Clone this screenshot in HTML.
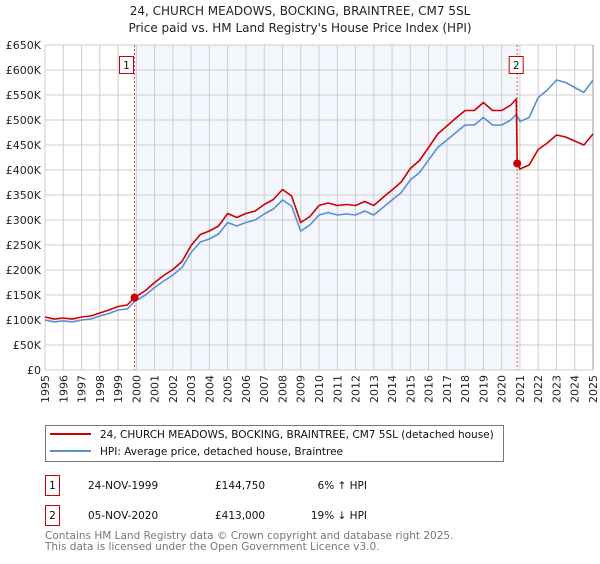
<!DOCTYPE html>
<html><head><meta charset="utf-8"><style>
body{margin:0;background:#fff;font-family:"DejaVu Sans","Liberation Sans",sans-serif;}
svg text{font-family:"DejaVu Sans","Liberation Sans",sans-serif;}
</style></head><body>
<svg id="c" width="600" height="560" xmlns="http://www.w3.org/2000/svg">
<text x="300" y="15" text-anchor="middle" font-size="12" fill="#222">24, CHURCH MEADOWS, BOCKING, BRAINTREE, CM7 5SL</text>
<text x="300" y="32" text-anchor="middle" font-size="12" fill="#222">Price paid vs. HM Land Registry's House Price Index (HPI)</text>
<g id="plot"></g>
<g>
<rect x="45.5" y="425.5" width="458" height="36" fill="#fff" stroke="#777"/>
<line x1="50" y1="434" x2="91" y2="434" stroke="#cc0000" stroke-width="2"/>
<text x="100" y="438" font-size="10.5" fill="#111">24, CHURCH MEADOWS, BOCKING, BRAINTREE, CM7 5SL (detached house)</text>
<line x1="50" y1="451" x2="91" y2="451" stroke="#5b8fd4" stroke-width="2"/>
<text x="100" y="455" font-size="10.5" fill="#111">HPI: Average price, detached house, Braintree</text>
</g>
<g font-size="10.5" fill="#111">
<rect x="45.5" y="475.5" width="14" height="20" fill="#fff" stroke="#cc0000"/>
<text x="52.5" y="489" text-anchor="middle">1</text>
<text x="88" y="489">24-NOV-1999</text>
<text x="215" y="489">£144,750</text>
<text x="367" y="489" text-anchor="end">6% ↑ HPI</text>
<rect x="45.5" y="505.5" width="14" height="20" fill="#fff" stroke="#cc0000"/>
<text x="52.5" y="519" text-anchor="middle">2</text>
<text x="88" y="519">05-NOV-2020</text>
<text x="215" y="519">£413,000</text>
<text x="367" y="519" text-anchor="end">19% ↓ HPI</text>
</g>
<g font-size="10.5" fill="#777">
<text x="45" y="539">Contains HM Land Registry data © Crown copyright and database right 2025.</text>
<text x="45" y="550">This data is licensed under the Open Government Licence v3.0.</text>
</g>
</svg>
<script>
const hpiYears=[1995,1995.5,1996,1996.5,1997,1997.5,1998,1998.5,1999,1999.5,1999.9,2000.5,2001,2001.5,2002,2002.5,2003,2003.5,2004,2004.5,2005,2005.5,2006,2006.5,2007,2007.5,2008,2008.5,2009,2009.5,2010,2010.5,2011,2011.5,2012,2012.5,2013,2013.5,2014,2014.5,2015,2015.5,2016,2016.5,2017,2017.5,2018,2018.5,2019,2019.5,2020,2020.5,2020.8,2021,2021.5,2022,2022.5,2023,2023.5,2024,2024.5,2025];
const hpiValues=[100,96,98,96,100,102,108,113,120,122,137,150,165,178,190,205,235,256,262,272,295,288,295,300,312,322,340,328,278,290,310,315,310,312,310,318,310,325,340,355,380,395,420,445,460,475,490,490,505,490,490,500,512,497,505,545,560,580,575,565,555,580];
const redYears=[1995,1995.5,1996,1996.5,1997,1997.5,1998,1998.5,1999,1999.5,1999.9,2000.5,2001,2001.5,2002,2002.5,2003,2003.5,2004,2004.5,2005,2005.5,2006,2006.5,2007,2007.5,2008,2008.5,2009,2009.5,2010,2010.5,2011,2011.5,2012,2012.5,2013,2013.5,2014,2014.5,2015,2015.5,2016,2016.5,2017,2017.5,2018,2018.5,2019,2019.5,2020,2020.5,2020.8,2020.85,2021,2021.5,2022,2022.5,2023,2023.5,2024,2024.5,2025];
const redValues=[106,102,104,102,106,108,114,120,127,130,144.75,159,175,189,201,217,249,271,278,288,313,305,313,318,331,341,361,348,295,307,329,334,329,331,329,337,329,345,360,376,403,419,445,472,488,504,519,519,535,519,519,530,542,413,402,410,441,454,470,466,458,450,472];
const sales=[{n:"1",year:1999.9,value:144.75},{n:"2",year:2020.85,value:413}];
const yTicks=[0,50,100,150,200,250,300,350,400,450,500,550,600,650];
const yLabels=["£0","£50K","£100K","£150K","£200K","£250K","£300K","£350K","£400K","£450K","£500K","£550K","£600K","£650K"];
const xTicks=[1995,1996,1997,1998,1999,2000,2001,2002,2003,2004,2005,2006,2007,2008,2009,2010,2011,2012,2013,2014,2015,2016,2017,2018,2019,2020,2021,2022,2023,2024,2025];

const X0=45,X1=593,Y0=370,Y1=45;
const xs=y=>X0+(y-1995)/30*(X1-X0);
const ys=v=>Y0-v/650*(Y0-Y1);
const NS="http://www.w3.org/2000/svg";
const g=document.getElementById('plot');
function mk(t,a){const e=document.createElementNS(NS,t);for(const k in a)e.setAttribute(k,a[k]);g.appendChild(e);return e;}

let bg=mk('rect',{x:X0,y:Y1,width:X1-X0,height:Y0-Y1,fill:'#fff'});


let sh=mk('rect',{x:xs(sales[0].year),y:Y1,width:xs(sales[1].year)-xs(sales[0].year),height:Y0-Y1,fill:'#eef3fc',opacity:0.7});



yTicks.forEach((v,i)=>{
  let l=mk('line',{x1:X0,x2:X1,y1:ys(v),y2:ys(v),stroke:'#cccccc','stroke-width':1});
  
  
  let t=mk('text',{x:X0-4,y:ys(v)+4,'text-anchor':'end','font-size':'11',fill:'#222'});
  t.textContent=yLabels[i];
  
  
});
xTicks.forEach(yr=>{
  let l=mk('line',{x1:xs(yr),x2:xs(yr),y1:Y1,y2:Y0,stroke:'#cccccc','stroke-width':1});
  
  
  let t=mk('text',{x:0,y:0,'text-anchor':'end','font-size':'11',fill:'#222',transform:`translate(${xs(yr)+4},${Y0+5}) rotate(-90)`});
  t.textContent=yr;
  
  
});
let rb=mk('line',{x1:X1,x2:X1,y1:Y1,y2:Y0,stroke:'#999','stroke-width':1});



sales.forEach(s=>{
  let l=mk('line',{x1:xs(s.year),x2:xs(s.year),y1:Y1,y2:Y0,stroke:'#e05050','stroke-width':1,'stroke-dasharray':'2,2'});
  
  
});

function path(xa,va,color,name){
  let d=xa.map((x,i)=>(i?'L':'M')+xs(x).toFixed(1)+','+ys(va[i]).toFixed(1)).join('');
  let p=mk('path',{d:d,fill:'none',stroke:color,'stroke-width':1.6,'stroke-linejoin':'round'});
  
  
}
path(hpiYears,hpiValues,'#5b8fd4','hpi-line');
path(redYears,redValues,'#cc0000','price-paid-line');

sales.forEach(s=>{
  let c=mk('circle',{cx:xs(s.year),cy:ys(s.value),r:4,fill:'#cc0000'});
  
  
  let bx=xs(s.year)-(s.n==="1"?14:7)-1;
  let r=mk('rect',{x:bx,y:56.5,width:14,height:17,fill:'#fff',stroke:'#cc0000'});
  
  
  let t=mk('text',{x:bx+7,y:69,'text-anchor':'middle','font-size':'10.5',fill:'#111'});
  t.textContent=s.n;
  
  
});
</script>
</body></html>
